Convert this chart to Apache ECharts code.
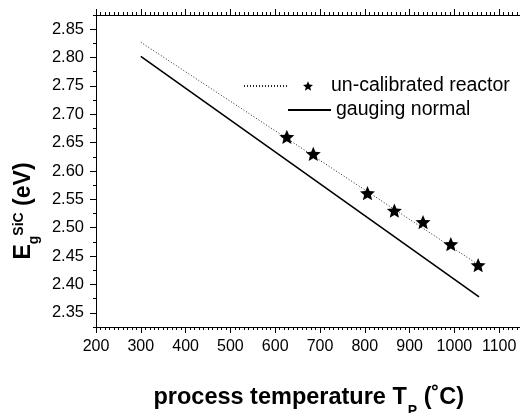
<!DOCTYPE html>
<html>
<head>
<meta charset="utf-8">
<script src="https://cdn.jsdelivr.net/npm/echarts@6/dist/echarts.min.js"></script>
<style>
  html, body { margin: 0; padding: 0; background: #fff; }
  #chart { width: 520px; height: 413px; }
</style>
</head>
<body>
<div id="chart"></div>
<script>
// data
var tempX = [626, 685, 806, 866, 930, 992, 1053];
var egCal = [2.660, 2.630, 2.561, 2.530, 2.510, 2.471, 2.434];
var fitX = [300, 1055];
var fitCal = [2.827, 2.434];
var normX = [300, 1055];
var normY = [2.802, 2.378];
var xTicks = [200, 300, 400, 500, 600, 700, 800, 900, 1000, 1100];
var yTicks = [2.35, 2.40, 2.45, 2.50, 2.55, 2.60, 2.65, 2.70, 2.75, 2.80, 2.85];

var FONT = "'Liberation Sans', Arial, sans-serif";

function pairs(xs, ys) {
    return xs.map(function (x, i) { return [x, ys[i]]; });
}

// five point star symbol
function starPath() {
    var pts = [];
    for (var k = 0; k < 10; k++) {
        var r = k % 2 ? 0.45 : 1;
        var a = Math.PI * (k * 36 - 90) / 180;
        pts.push((r * Math.cos(a)).toFixed(3) + ',' + (r * Math.sin(a)).toFixed(3));
    }
    return 'path://M' + pts.join('L') + 'Z';
}
var STAR = starPath();

var axisLine = { show: true, onZero: false, lineStyle: { color: '#000', width: 1 } };
var gridBox = { left: 96, top: 15, width: 425.6, height: 312, outerBoundsMode: 'none', containLabel: false };
// hide the symbol drawn in the middle of a line legend icon
var noSymbol = { color: 'rgba(0,0,0,0)', borderWidth: 0, opacity: 0 };

var myChart = echarts.init(document.getElementById('chart'));
var option = {
    animation: false,
    textStyle: { fontFamily: FONT },
    grid: [gridBox, gridBox],
    xAxis: [
        {   // bottom, major ticks + labels
            gridIndex: 0, type: 'value', position: 'bottom',
            min: 200, max: 1150,
            axisLine: axisLine,
            axisTick: { show: true, customValues: xTicks, length: 6, lineStyle: { color: '#000' } },
            axisLabel: {
                customValues: xTicks, fontSize: 16, color: '#000', margin: 12, fontFamily: FONT,
                formatter: function (v) { return String(v); }
            },
            splitLine: { show: false },
            name: '{b|process temperature T}{sub|P}{b| (˚C)}',
            nameLocation: 'middle',
            nameGap: 59,
            nameTextStyle: {
                rich: {
                    b: { fontSize: 23.5, fontWeight: 'bold', color: '#000', fontFamily: FONT, lineHeight: 24, verticalAlign: 'top' },
                    sub: { fontSize: 14, fontWeight: 'bold', color: '#000', fontFamily: FONT, lineHeight: 14, verticalAlign: 'top', padding: [18, 0, 0, 1] }
                }
            }
        },
        {   // top, major ticks
            gridIndex: 0, type: 'value', position: 'top',
            min: 200, max: 1150,
            axisLine: axisLine,
            axisTick: { show: true, customValues: xTicks, length: 6, lineStyle: { color: '#000' } },
            axisLabel: { show: false },
            splitLine: { show: false }
        },
        {   // bottom minor ticks
            gridIndex: 1, type: 'value', position: 'bottom',
            min: 200, max: 1150, interval: 10,
            axisLine: { show: false },
            axisTick: { show: true, length: 3, lineStyle: { color: '#000' } },
            axisLabel: { show: false },
            splitLine: { show: false }
        },
        {   // top minor ticks
            gridIndex: 1, type: 'value', position: 'top',
            min: 200, max: 1150, interval: 10,
            axisLine: { show: false },
            axisTick: { show: true, length: 3, lineStyle: { color: '#000' } },
            axisLabel: { show: false },
            splitLine: { show: false }
        }
    ],
    yAxis: [
        {
            gridIndex: 0, type: 'value', position: 'left',
            min: 2.325, max: 2.875,
            axisLine: axisLine,
            axisTick: { show: true, customValues: yTicks, length: 6, lineStyle: { color: '#000' } },
            axisLabel: {
                customValues: yTicks, fontSize: 16.5, color: '#000', margin: 12, fontFamily: FONT,
                formatter: function (v) { return v.toFixed(2); }
            },
            splitLine: { show: false },
            name: '{b|E}{sub|g}{sup|SiC}{b| (eV)}',
            nameLocation: 'middle',
            nameRotate: 90,
            nameGap: 57,
            nameTextStyle: {
                padding: [0, 80, 0, 0],
                rich: {
                    b: { fontSize: 23, fontWeight: 'bold', color: '#000', fontFamily: FONT, lineHeight: 23, verticalAlign: 'top' },
                    sub: { fontSize: 14, fontWeight: 'bold', color: '#000', fontFamily: FONT, lineHeight: 14, verticalAlign: 'top', padding: [15, 0, 0, 0] },
                    sup: { fontSize: 14, fontWeight: 'bold', color: '#000', fontFamily: FONT, lineHeight: 14, verticalAlign: 'top', padding: [0, 0, 0, 0] }
                }
            }
        },
        {   // minor ticks
            gridIndex: 1, type: 'value', position: 'left',
            min: 2.325, max: 2.875, interval: 0.025,
            axisLine: { show: false },
            axisTick: { show: true, length: 3, lineStyle: { color: '#000' } },
            axisLabel: { show: false },
            splitLine: { show: false }
        }
    ],
    legend: [
        {   // dotted line part of the first entry
            left: 243, top: 76, padding: 0, selectedMode: false,
            itemWidth: 43, itemHeight: 20,
            itemStyle: noSymbol,
            data: ['fit'],
            formatter: function () { return ''; },
            textStyle: { fontSize: 19.5 }
        },
        {
            left: 303, top: 76, padding: 0, selectedMode: false,
            itemWidth: 10, itemHeight: 20,
            data: [{ name: 'un-calibrated reactor', icon: STAR }],
            textStyle: { fontSize: 19.5, color: '#000', fontFamily: FONT, padding: [0, 0, 0, 13] }
        },
        {
            left: 287, top: 100, padding: 0, selectedMode: false,
            itemWidth: 43, itemHeight: 20,
            itemStyle: noSymbol,
            data: ['gauging normal'],
            textStyle: { fontSize: 19.5, color: '#000', fontFamily: FONT }
        }
    ],
    series: [
        {
            name: 'fit',
            type: 'line',
            xAxisIndex: 0, yAxisIndex: 0,
            data: pairs(fitX, fitCal),
            symbol: 'none',
            lineStyle: { color: '#222', width: 1, type: [1, 2] },
            itemStyle: { color: '#222' },
            z: 2
        },
        {
            name: 'un-calibrated reactor',
            type: 'scatter',
            xAxisIndex: 0, yAxisIndex: 0,
            data: pairs(tempX, egCal),
            symbol: STAR,
            symbolSize: 15,
            symbolKeepAspect: true,
            itemStyle: { color: '#000', opacity: 1 },
            z: 4
        },
        {
            name: 'gauging normal',
            type: 'line',
            xAxisIndex: 0, yAxisIndex: 0,
            data: pairs(normX, normY),
            symbol: 'none',
            lineStyle: { color: '#000', width: 1.6 },
            itemStyle: { color: '#000' },
            z: 3
        }
    ]
};
myChart.setOption(option);
</script>
</body>
</html>
